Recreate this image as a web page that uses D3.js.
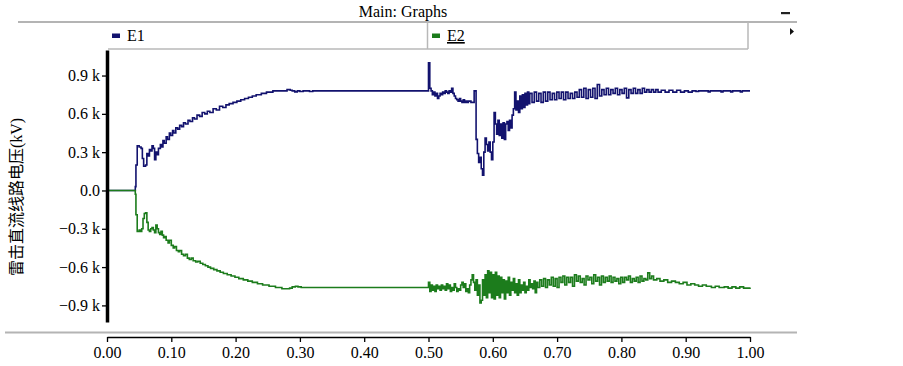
<!DOCTYPE html>
<html><head><meta charset="utf-8">
<script src="https://cdn.jsdelivr.net/npm/d3@7"></script>
<style>body{margin:0;background:#fff} svg{display:block}</style>
</head><body>
<svg id="c" width="903" height="366"></svg>
<script>
const chartTitle = "Main: Graphs";
const seriesNames = ["E1", "E2"];
const seriesColors = ["#12126e", "#1c7c1c"];
const yLabel = "雷击直流线路电压(kV)";
const xTicks = [0, 0.1, 0.2, 0.3, 0.4, 0.5, 0.6, 0.7, 0.8, 0.9, 1.0];
const yTicks = [-0.9, -0.6, -0.3, 0, 0.3, 0.6, 0.9];

// E1: [time (s), voltage (kV x1000)]
const e1Points = [
[0,0],[0.043,0],[0.044,0.03],[0.045,0.2],[0.047,0.35],[0.050,0.34],[0.053,0.33],[0.055,0.25],[0.057,0.19],[0.060,0.20],
[0.062,0.29],[0.064,0.27],[0.066,0.32],[0.068,0.31],[0.070,0.35],[0.072,0.33],[0.074,0.24],[0.076,0.30],[0.078,0.28],[0.080,0.33],
[0.083,0.36],[0.085,0.34],[0.087,0.39],[0.089,0.37],[0.092,0.42],[0.094,0.40],[0.097,0.45],[0.099,0.43],[0.102,0.47],[0.104,0.45],
[0.107,0.49],[0.110,0.48],[0.113,0.51],[0.116,0.50],[0.119,0.53],[0.122,0.52],[0.126,0.55],[0.129,0.54],[0.133,0.57],[0.136,0.56],
[0.140,0.59],[0.144,0.58],[0.148,0.61],[0.152,0.60],[0.156,0.62],[0.160,0.61],[0.165,0.64],[0.170,0.63],[0.175,0.66],[0.180,0.65],
[0.185,0.67],[0.190,0.68],[0.196,0.69],[0.202,0.70],[0.208,0.71],[0.214,0.72],[0.220,0.73],[0.226,0.74],[0.232,0.75],[0.240,0.76],
[0.248,0.77],[0.258,0.78],[0.278,0.78],[0.280,0.79],[0.285,0.785],[0.288,0.78],[0.292,0.772],[0.296,0.78],[0.300,0.775],[0.305,0.78],
[0.315,0.775],[0.320,0.78],[0.4995,0.78],[0.500,1.0],[0.502,0.80],[0.504,0.78],[0.506,0.75],[0.508,0.77],[0.510,0.74],[0.512,0.76],
[0.514,0.72],[0.516,0.74],[0.518,0.76],[0.520,0.75],[0.522,0.77],[0.524,0.76],[0.526,0.78],[0.528,0.77],[0.530,0.76],[0.532,0.78],
[0.534,0.77],[0.536,0.80],[0.538,0.76],[0.540,0.74],[0.542,0.72],[0.544,0.71],[0.546,0.70],[0.548,0.72],[0.550,0.70],[0.552,0.69],
[0.554,0.71],[0.556,0.69],[0.558,0.70],[0.560,0.69],[0.562,0.70],[0.566,0.69],[0.571,0.78],[0.574,0.40],[0.576,0.29],[0.578,0.22],
[0.580,0.26],[0.582,0.17],[0.584,0.12],[0.586,0.30],[0.588,0.41],[0.590,0.36],[0.592,0.31],[0.594,0.38],[0.596,0.30],[0.598,0.24],
[0.600,0.38],[0.602,0.61],[0.604,0.52],[0.606,0.44],[0.608,0.55],[0.610,0.43],[0.612,0.52],[0.614,0.41],[0.616,0.53],[0.618,0.40],
[0.620,0.52],[0.622,0.54],[0.624,0.47],[0.626,0.55],[0.628,0.49],[0.630,0.59],[0.632,0.64],[0.634,0.77],[0.636,0.63],[0.638,0.70],
[0.640,0.61],[0.642,0.74],[0.644,0.64],[0.646,0.75],[0.648,0.65],[0.650,0.76],[0.652,0.67],[0.654,0.77],[0.656,0.68],[0.6575,0.76],
[0.661,0.69],[0.6645,0.77],[0.668,0.70],[0.6715,0.76],[0.675,0.69],[0.6785,0.77],[0.682,0.70],[0.6855,0.77],[0.689,0.71],[0.6925,0.76],
[0.696,0.71],[0.6995,0.77],[0.703,0.72],[0.7065,0.77],[0.710,0.71],[0.7135,0.77],[0.717,0.72],[0.7205,0.76],[0.724,0.72],[0.7275,0.77],
[0.731,0.73],[0.7345,0.79],[0.738,0.73],[0.7415,0.80],[0.745,0.72],[0.7485,0.79],[0.752,0.73],[0.7555,0.80],[0.759,0.72],[0.7625,0.83],
[0.766,0.74],[0.7695,0.79],[0.773,0.75],[0.7765,0.80],[0.780,0.75],[0.7835,0.79],[0.787,0.76],[0.7905,0.80],[0.794,0.75],[0.7975,0.79],
[0.801,0.76],[0.8045,0.80],[0.808,0.725],[0.8115,0.79],[0.815,0.76],[0.8185,0.80],[0.822,0.76],[0.8255,0.79],[0.829,0.76],[0.8325,0.80],
[0.836,0.77],[0.8395,0.79],[0.843,0.77],[0.8465,0.79],[0.850,0.77],[0.8535,0.79],[0.857,0.77],[0.862,0.785],[0.868,0.77],[0.874,0.785],
[0.880,0.77],[0.886,0.785],[0.892,0.77],[0.898,0.78],[0.904,0.77],[0.910,0.78],[0.916,0.775],[0.920,0.78],[0.935,0.772],[0.938,0.78],
[0.955,0.772],[0.958,0.78],[0.970,0.772],[0.973,0.78],[0.985,0.772],[0.988,0.78],[1.0,0.78]
];

// E2: [time (s), voltage (kV x1000)]
const e2Points = [
[0,0],[0.043,0],[0.044,-0.03],[0.045,-0.19],[0.047,-0.32],[0.050,-0.31],[0.052,-0.32],[0.054,-0.30],[0.056,-0.22],[0.058,-0.18],
[0.060,-0.175],[0.062,-0.25],[0.064,-0.31],[0.066,-0.32],[0.068,-0.30],[0.070,-0.29],[0.072,-0.31],[0.074,-0.33],[0.076,-0.27],[0.078,-0.30],
[0.080,-0.33],[0.082,-0.345],[0.084,-0.32],[0.086,-0.35],[0.088,-0.37],[0.090,-0.36],[0.092,-0.39],[0.095,-0.41],[0.097,-0.39],[0.100,-0.43],
[0.103,-0.45],[0.105,-0.44],[0.108,-0.47],[0.111,-0.48],[0.113,-0.47],[0.116,-0.50],[0.119,-0.51],[0.122,-0.50],[0.125,-0.53],[0.128,-0.54],
[0.131,-0.53],[0.134,-0.55],[0.138,-0.56],[0.141,-0.555],[0.145,-0.57],[0.149,-0.58],[0.153,-0.59],[0.157,-0.60],[0.161,-0.61],[0.166,-0.62],
[0.171,-0.63],[0.176,-0.64],[0.181,-0.65],[0.187,-0.66],[0.193,-0.67],[0.199,-0.68],[0.205,-0.69],[0.212,-0.70],[0.219,-0.71],[0.226,-0.72],
[0.234,-0.73],[0.242,-0.74],[0.252,-0.75],[0.262,-0.76],[0.272,-0.77],[0.284,-0.765],[0.288,-0.755],[0.293,-0.75],[0.297,-0.755],[0.302,-0.76],
[0.4995,-0.76],[0.500,-0.72],[0.502,-0.79],[0.504,-0.74],[0.506,-0.78],[0.508,-0.75],[0.510,-0.79],[0.512,-0.74],[0.514,-0.77],[0.516,-0.75],
[0.518,-0.78],[0.520,-0.74],[0.522,-0.77],[0.524,-0.75],[0.526,-0.78],[0.528,-0.73],[0.530,-0.77],[0.532,-0.74],[0.534,-0.79],[0.536,-0.76],
[0.538,-0.78],[0.540,-0.73],[0.542,-0.76],[0.544,-0.79],[0.546,-0.77],[0.548,-0.78],[0.550,-0.74],[0.552,-0.72],[0.554,-0.76],[0.556,-0.73],
[0.558,-0.79],[0.560,-0.77],[0.562,-0.80],[0.564,-0.74],[0.566,-0.70],[0.568,-0.66],[0.570,-0.72],[0.572,-0.78],[0.574,-0.70],[0.576,-0.82],
[0.578,-0.74],[0.580,-0.88],[0.582,-0.86],[0.584,-0.70],[0.586,-0.82],[0.588,-0.66],[0.590,-0.84],[0.592,-0.63],[0.594,-0.80],[0.596,-0.64],
[0.598,-0.84],[0.600,-0.66],[0.602,-0.85],[0.604,-0.64],[0.606,-0.82],[0.608,-0.67],[0.610,-0.84],[0.612,-0.68],[0.614,-0.80],[0.616,-0.70],
[0.618,-0.85],[0.620,-0.71],[0.622,-0.80],[0.624,-0.68],[0.626,-0.82],[0.628,-0.72],[0.630,-0.78],[0.632,-0.69],[0.634,-0.80],[0.636,-0.73],
[0.638,-0.82],[0.640,-0.70],[0.642,-0.80],[0.644,-0.74],[0.646,-0.78],[0.648,-0.72],[0.650,-0.80],[0.652,-0.75],[0.654,-0.78],[0.656,-0.70],
[0.658,-0.76],[0.660,-0.73],[0.662,-0.77],[0.664,-0.71],[0.666,-0.80],[0.668,-0.72],[0.670,-0.76],[0.673,-0.70],[0.676,-0.75],[0.679,-0.69],
[0.682,-0.76],[0.685,-0.70],[0.688,-0.74],[0.691,-0.68],[0.694,-0.75],[0.697,-0.69],[0.700,-0.76],[0.703,-0.68],[0.706,-0.72],[0.709,-0.67],
[0.712,-0.74],[0.715,-0.68],[0.718,-0.72],[0.721,-0.68],[0.724,-0.75],[0.727,-0.66],[0.730,-0.71],[0.733,-0.67],[0.736,-0.72],[0.739,-0.69],
[0.742,-0.74],[0.745,-0.67],[0.748,-0.70],[0.751,-0.68],[0.754,-0.73],[0.757,-0.66],[0.760,-0.71],[0.763,-0.68],[0.766,-0.74],[0.769,-0.67],
[0.772,-0.72],[0.775,-0.68],[0.778,-0.71],[0.781,-0.67],[0.784,-0.72],[0.787,-0.68],[0.790,-0.71],[0.793,-0.69],[0.796,-0.73],[0.799,-0.68],
[0.802,-0.72],[0.805,-0.68],[0.808,-0.70],[0.811,-0.67],[0.814,-0.72],[0.817,-0.69],[0.820,-0.71],[0.823,-0.68],[0.826,-0.72],[0.829,-0.67],
[0.832,-0.71],[0.835,-0.69],[0.838,-0.70],[0.841,-0.645],[0.844,-0.69],[0.847,-0.67],[0.850,-0.70],[0.855,-0.69],[0.860,-0.71],[0.866,-0.70],
[0.872,-0.72],[0.878,-0.71],[0.884,-0.72],[0.890,-0.73],[0.896,-0.72],[0.902,-0.74],[0.908,-0.73],[0.914,-0.74],[0.920,-0.75],[0.926,-0.74],
[0.932,-0.75],[0.940,-0.76],[0.946,-0.75],[0.952,-0.76],[0.960,-0.755],[0.966,-0.765],[0.972,-0.755],[0.978,-0.765],[0.984,-0.755],[0.990,-0.765],
[1.0,-0.76]
];

const FONT = "'Liberation Serif','Times New Roman',serif";
const svg = d3.select("#c");
const x = d3.scaleLinear().domain([0, 1]).range([107, 750]);
const y = d3.scaleLinear().domain([-1.03, 1.1]).range([322, 50]);

// frame
svg.append("text").attr("x", 403).attr("y", 17).attr("text-anchor", "middle")
  .style("font-family", FONT).style("font-size", "16px").text(chartTitle);
svg.append("line").attr("x1", 18).attr("x2", 797).attr("y1", 22).attr("y2", 22)
  .attr("stroke", "#b4b4b4").attr("stroke-width", 2);
svg.append("rect").attr("x", 781).attr("y", 12).attr("width", 9).attr("height", 2.2).attr("fill", "#222");
svg.append("path").attr("d", "M790,28 L794,31.5 L790,35 Z").attr("fill", "#111");

// legend box
const lg = svg.append("g").attr("stroke", "#b8b8b8").attr("stroke-width", 1.5).attr("fill", "none");
lg.append("line").attr("x1", 108).attr("x2", 748).attr("y1", 49).attr("y2", 49);
lg.append("line").attr("x1", 748).attr("x2", 748).attr("y1", 22).attr("y2", 49);
lg.append("line").attr("x1", 427.5).attr("x2", 427.5).attr("y1", 22).attr("y2", 49);
const legendX = [112, 432];
seriesNames.forEach((n, i) => {
  svg.append("rect").attr("x", legendX[i]).attr("y", 33.5).attr("width", 8).attr("height", 4.5).attr("fill", seriesColors[i]);
  const t = svg.append("text").attr("x", legendX[i] + 15).attr("y", 41)
    .style("font-family", FONT).style("font-size", "16px").text(n);
  if (i === 1) t.style("text-decoration", "underline");
});

// bottom gray rule
svg.append("line").attr("x1", 5).attr("x2", 797).attr("y1", 332.5).attr("y2", 332.5)
  .attr("stroke", "#b4b4b4").attr("stroke-width", 2);

// series
const line = d3.line().x(d => x(d[0])).y(d => y(d[1])).curve(d3.curveStepAfter);
[e1Points, e2Points].forEach((pts, i) => {
  svg.append("path").datum(pts).attr("d", line).attr("fill", "none")
    .attr("stroke", seriesColors[i]).attr("stroke-width", 1.6).attr("stroke-linejoin", "miter");
});

// y axis
const fmtY = v => v === 0 ? "0.0" : d3.format(".1f")(v) + " k";
const ya = svg.append("g").attr("transform", "translate(107,0)")
  .call(d3.axisLeft(y).tickValues(yTicks).tickFormat(fmtY).tickSize(5).tickSizeOuter(0).tickPadding(2));
ya.select(".domain").attr("stroke", "#000").attr("stroke-width", 3.5);
ya.selectAll(".tick line").attr("stroke", "#000").attr("stroke-width", 1.3);
ya.selectAll(".tick text").style("font-family", FONT).style("font-size", "16px").attr("fill", "#000");

// x axis
const xa = svg.append("g").attr("transform", "translate(0,337)")
  .call(d3.axisBottom(x).tickValues(xTicks).tickFormat(d3.format(".2f")).tickSize(5).tickSizeOuter(0).tickPadding(5));
xa.select(".domain").attr("stroke", "#000").attr("stroke-width", 1.5);
xa.selectAll(".tick line").attr("stroke", "#000").attr("stroke-width", 1.3);
xa.selectAll(".tick text").style("font-family", FONT).style("font-size", "16px").attr("fill", "#000");

// y label
svg.append("text").attr("transform", "translate(22,197) rotate(-90)").attr("text-anchor", "middle")
  .style("font-family", "'Liberation Serif','Noto Sans CJK SC',serif").style("font-size", "16px").text(yLabel);
</script>
</body></html>
